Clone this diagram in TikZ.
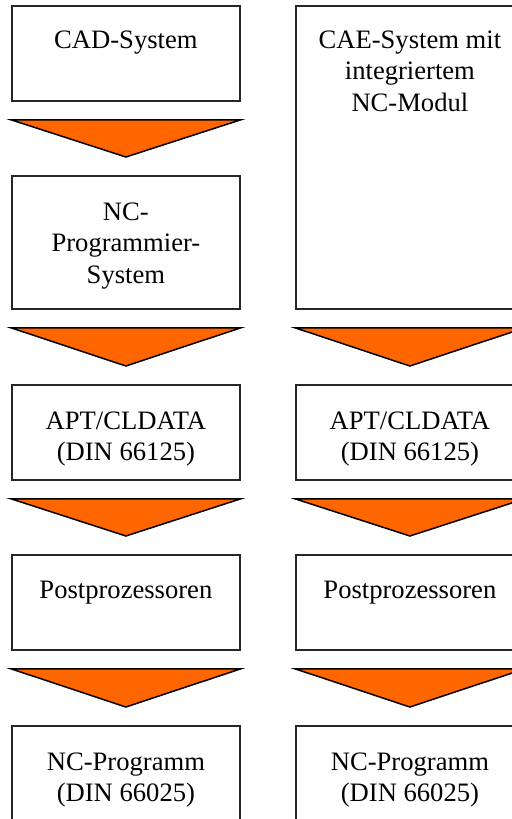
\documentclass[tikz,border=0pt]{standalone}
\usepackage{fontspec}
\setmainfont{Liberation Serif}
\usepackage{tikz}
\usetikzlibrary{positioning, calc}
\usepackage{xcolor}
\definecolor{pfeilorange}{RGB}{255,102,0}

\begin{document}
\begin{tikzpicture}[
        x=0.5pt, y=-0.5pt,
        box/.style={rectangle, draw=black!85, line width=0.9pt, fill=white, minimum width=114pt, inner sep=0pt, anchor=north west},
        txt/.style={anchor=north, align=center, inner sep=0pt, font=\fontsize{13.3}{15.75}\selectfont},
        pfeil/.style={draw=black, fill=pfeilorange, line width=0.75pt, line join=miter}
    ]
        \useasboundingbox (0,0) rectangle (512,819);
        \clip (0,0) rectangle (512,819);

        % ================= LINKS =================
        \node[box, minimum height=47.5pt] (cad) at (11,5) {};
        \node[txt] (cadtxt) at ([yshift=-12.5pt]cad.north) {CAD-System};

        \node[box, minimum height=66.5pt] (ncp) at (11,175) {};
        \node[txt] (ncptxt) at ([yshift=-13.5pt]ncp.north) {NC-\\Programmier-\\System};

        \node[box, minimum height=47.5pt] (aptl) at (11,384) {};
        \node[txt] (aptltxt) at ([yshift=-13.5pt]aptl.north) {APT/CLDATA\\(DIN 66125)};

        \node[box, minimum height=47.5pt] (postl) at (11,554) {};
        \node[txt] (postltxt) at ([yshift=-13.5pt]postl.north) {Postprozessoren};

        \node[box, minimum height=47.5pt] (ncl) at (11,725) {};
        \node[txt] (ncltxt) at ([yshift=-13.5pt]ncl.north) {NC-Programm\\(DIN 66025)};

        % ================= RECHTS =================
        \node[box, minimum height=151.5pt] (cae) at (295,5) {};
        \node[txt] (caetxt) at ([yshift=-12.5pt]cae.north) {CAE-System mit\\integriertem\\NC-Modul};

        \node[box, minimum height=47.5pt] (aptr) at (295,384) {};
        \node[txt] (aptrtxt) at ([yshift=-13.5pt]aptr.north) {APT/CLDATA\\(DIN 66125)};

        \node[box, minimum height=47.5pt] (postr) at (295,554) {};
        \node[txt] (postrtxt) at ([yshift=-13.5pt]postr.north) {Postprozessoren};

        \node[box, minimum height=47.5pt] (ncr) at (295,725) {};
        \node[txt] (ncrtxt) at ([yshift=-13.5pt]ncr.north) {NC-Programm\\(DIN 66025)};

        % ================= PFEILE =================
        \foreach \von/\nach in {cad/ncp, ncp/aptl, aptl/postl, postl/ncl, cae/aptr, aptr/postr, postr/ncr}
            \draw[pfeil] ([yshift=-9pt]\von.south west) -- ([yshift=-9pt]\von.south east) -- ([yshift=9pt]\nach.north) -- cycle;

    \end{tikzpicture}
\end{document}
